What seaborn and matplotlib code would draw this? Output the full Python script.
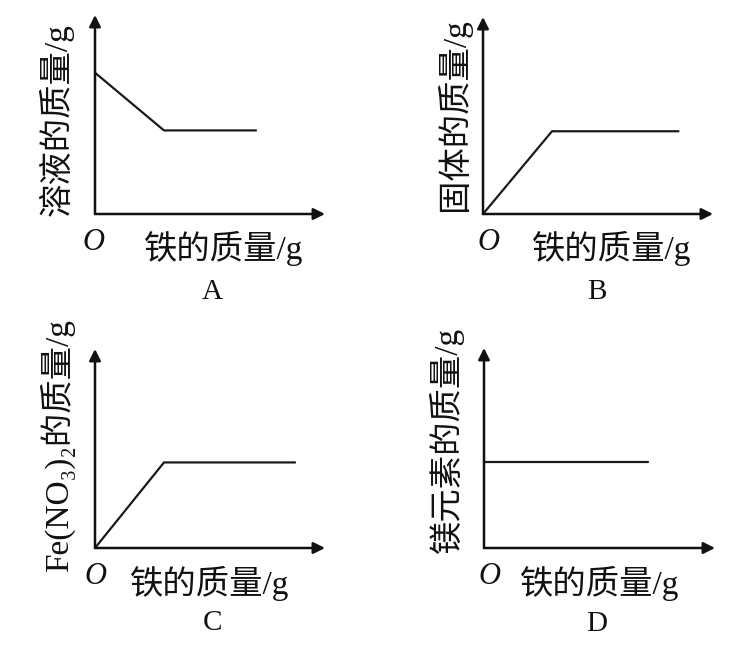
import matplotlib
matplotlib.use("Agg")
import matplotlib.pyplot as plt
import seaborn as sns

# schematic data (axis units 0..10)
iron_a = [0, 3.0, 7.0]
mass_a = [7.1, 4.2, 4.2]
iron_b = [0, 3.0, 8.5]
mass_b = [0, 4.2, 4.2]
iron_c = [0, 3.0, 8.7]
mass_c = [0, 4.3, 4.3]
iron_d = [0, 7.1]
mass_d = [4.3, 4.3]

ylabels = ["溶液的质量/g", "固体的质量/g", "Fe(NO₃)₂的质量/g", "镁元素的质量/g"]
xlabel = "铁的质量/g"
letters = ["A", "B", "C", "D"]

sns.set_style("white")
plt.rcParams["font.family"] = ["Liberation Serif", "Noto Sans CJK SC", "DejaVu Serif"]

W, H = 751, 647
fig = plt.figure(figsize=(W / 100, H / 100), dpi=100)


def px(x, y):
    return x / W, 1 - y / H


# origin pixel, x-arrow tip, y-arrow tip for each panel
origins = [(95, 214), (483, 214), (95, 548), (484, 548)]
xtips = [325, 713, 325, 715]
ytips = [15, 17, 349, 348]
ylab_pos = [(56, 120), (453, 115), (57, 446), (446, 440)]
xlab_pos = [(224, 248), (612, 248), (210, 583), (600, 583)]
o_pos = [(93, 242), (488, 243), (95, 576), (489, 576)]
letter_pos = [(212, 292), (597, 292), (213, 623), (597, 624)]
series = [(iron_a, mass_a), (iron_b, mass_b), (iron_c, mass_c), (iron_d, mass_d)]

for i in range(4):
    ox, oy = origins[i]
    left, bottom = px(ox, oy)
    ax = fig.add_axes([left, bottom, (xtips[i] - ox) / W, (oy - ytips[i]) / H])
    ax.set_xlim(0, 10)
    ax.set_ylim(0, 10)
    ax.axis("off")
    ax.patch.set_alpha(0)

    xs, ys = series[i]
    sns.lineplot(x=xs, y=ys, ax=ax, color="#1a1a1a", lw=1.6, clip_on=False, sort=False)

    arrow = dict(arrowstyle="-|>", lw=1.8, color="#111111", mutation_scale=17,
                 shrinkA=0, shrinkB=0)
    ax.annotate("", xy=(1, 0), xytext=(0, 0), xycoords="axes fraction", arrowprops=arrow)
    ax.annotate("", xy=(0, 1), xytext=(0, 0), xycoords="axes fraction", arrowprops=arrow)

    fig.text(*px(*ylab_pos[i]), ylabels[i], rotation=90, ha="center", va="center",
             fontsize=24, color="#111111")
    fig.text(*px(*xlab_pos[i]), xlabel, ha="center", va="center",
             fontsize=24, color="#111111")
    fig.text(*px(*o_pos[i]), "O", ha="center", va="center", fontsize=22,
             style="italic", color="#111111")
    fig.text(*px(*letter_pos[i]), letters[i], ha="center", va="center",
             fontsize=21, color="#111111")

fig.savefig("out.png", dpi=100)
